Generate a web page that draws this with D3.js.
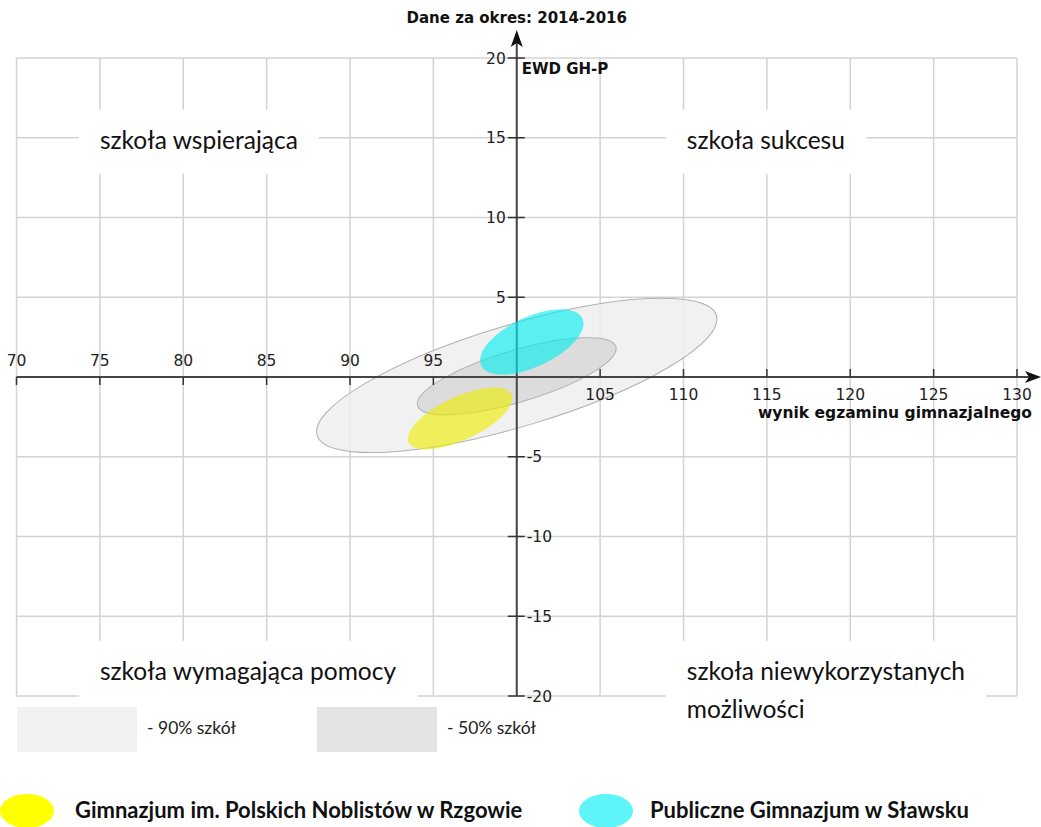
<!DOCTYPE html>
<html lang="pl">
<head>
  <meta charset="utf-8">
  <title>EWD GH-P</title>
  <script src="https://cdn.jsdelivr.net/npm/d3@7"></script>
<style>
body { margin: 0; background: white; }
.tick-label { font: 15.5px "DejaVu Sans", sans-serif; fill: #222; }
.axis-title { font: bold 15px "DejaVu Sans", sans-serif; fill: #111; }
.axis-title.big { font-size: 15.5px; }
.quad { font: 24.5px Lato, "Open Sans", sans-serif; fill: #111; }
.band-label { font: 17.5px Lato, "Open Sans", sans-serif; fill: #222; }
.school-label { font: bold 22px Lato, "Open Sans", sans-serif; fill: #111; }
</style>
</head>
<body>
<div id="chart"></div>
<script>
// axis ticks
var xTicks = [70, 75, 80, 85, 90, 95, 100, 105, 110, 115, 120, 125, 130];
var yTicks = [-20, -15, -10, -5, 0, 5, 10, 15, 20];

// reference areas (90% / 50% of schools), semi-axes in exam points
var bandNames = ["- 90% szkół", "- 50% szkół"];
var bandCx = [100, 100];
var bandCy = [0.1, 0.05];
var bandA = [12.5, 6.2];
var bandB = [3.05, 1.55];
var bandAngle = [16.7, 16.6];

// schools
var schoolNames = ["Gimnazjum im. Polskich Noblistów w Rzgowie", "Publiczne Gimnazjum w Sławsku"];
var schoolCx = [96.6, 100.9];
var schoolCy = [-2.6, 2.2];
var schoolA = [3.4, 3.35];
var schoolB = [1.3, 1.5];
var schoolAngle = [25, 25];

var quadrants = [
  {lines: ["szkoła wspierająca"], x: 75, y: 15},
  {lines: ["szkoła sukcesu"], x: 110.2, y: 15},
  {lines: ["szkoła wymagająca pomocy"], x: 75, y: -18.3},
  {lines: ["szkoła niewykorzystanych", "możliwości"], x: 110.2, y: -18.3}
];

var width = 1041, height = 827;
var x = d3.scaleLinear().domain([70, 130]).range([16.5, 1017]);
var y = d3.scaleLinear().domain([-20, 20]).range([696, 58]);

var svg = d3.select("#chart").append("svg")
  .attr("width", width)
  .attr("height", height);

// grid
var grid = svg.append("g");
grid.selectAll(".vg").data(xTicks).enter().append("line")
  .attr("x1", function(d){ return x(d); })
  .attr("x2", function(d){ return x(d); })
  .attr("y1", y(20)).attr("y2", y(-20))
  .attr("stroke", "#d3d3d3").attr("stroke-width", 1.5);
grid.selectAll(".hg").data(yTicks).enter().append("line")
  .attr("y1", function(d){ return y(d); })
  .attr("y2", function(d){ return y(d); })
  .attr("x1", x(70)).attr("x2", x(130))
  .attr("stroke", "#d3d3d3").attr("stroke-width", 1.5);

// quadrant labels with white boxes
quadrants.forEach(function(q) {
  var g = svg.append("g");
  var rect = g.append("rect").attr("fill", "white");
  var t = g.append("text").attr("class", "quad")
    .attr("x", x(q.x)).attr("y", y(q.y) + 5)
    .attr("dominant-baseline", "middle");
  q.lines.forEach(function(l, i) {
    t.append("tspan").attr("x", x(q.x)).attr("dy", i === 0 ? 0 : 38).text(l);
  });
  var bb = t.node().getBBox();
  rect.attr("x", bb.x - 21).attr("y", y(q.y) - 28)
    .attr("width", bb.width + 42).attr("height", 64);
});

function ellipse(sel, cx, cy, a, b, ang) {
  var px = x(cx), py = y(cy);
  return sel.append("ellipse")
    .attr("cx", px).attr("cy", py)
    .attr("rx", x(cx + a) - px)
    .attr("ry", x(cx + b) - px)
    .attr("transform", "rotate(" + (-ang) + "," + px + "," + py + ")");
}

// reference bands
var bandFill = ["#efefef", "#c8c8c8"];
var bandOpacity = [0.85, 0.5];
bandNames.forEach(function(n, i) {
  ellipse(svg, bandCx[i], bandCy[i], bandA[i], bandB[i], bandAngle[i])
    .attr("fill", bandFill[i]).attr("fill-opacity", bandOpacity[i])
    .attr("stroke", "#b0b0b0").attr("stroke-width", 1);
});

// axes
var axis = svg.append("g");
axis.append("line").attr("x1", x(70)).attr("x2", 1034)
  .attr("y1", y(0)).attr("y2", y(0)).attr("stroke", "#444").attr("stroke-width", 2);
axis.append("path").attr("d", "M1041," + y(0) + " L1025," + (y(0) - 6) + " L1029," + y(0) + " L1025," + (y(0) + 6) + "Z")
  .attr("fill", "#111");
axis.append("line").attr("x1", x(100)).attr("x2", x(100))
  .attr("y1", y(-20)).attr("y2", 40).attr("stroke", "#444").attr("stroke-width", 2);
axis.append("path").attr("d", "M" + x(100) + ",30 L" + (x(100) - 6) + ",47 L" + x(100) + ",43 L" + (x(100) + 6) + ",47Z")
  .attr("fill", "#111");

var xt = xTicks.filter(function(d){ return d !== 100; });
axis.selectAll(".xt").data(xt).enter().append("line")
  .attr("x1", function(d){ return x(d); }).attr("x2", function(d){ return x(d); })
  .attr("y1", function(d){ return d < 100 ? y(0) : y(0) - 8; })
  .attr("y2", function(d){ return d < 100 ? y(0) + 8 : y(0); })
  .attr("stroke", "#333").attr("stroke-width", 1.5);
axis.selectAll(".xl").data(xt).enter().append("text")
  .attr("class", "tick-label")
  .attr("text-anchor", "middle")
  .attr("x", function(d){ return x(d); })
  .attr("y", function(d){ return d < 100 ? y(0) - 11 : y(0) + 23; })
  .text(function(d){ return d; });

var yt = yTicks.filter(function(d){ return d !== 0; });
axis.selectAll(".yt").data(yt).enter().append("line")
  .attr("x1", x(100) - 9).attr("x2", x(100) + 8)
  .attr("y1", function(d){ return y(d); }).attr("y2", function(d){ return y(d); })
  .attr("stroke", "#333").attr("stroke-width", 1.5);
axis.selectAll(".yl").data(yt).enter().append("text")
  .attr("class", "tick-label")
  .attr("text-anchor", function(d){ return d > 0 ? "end" : "start"; })
  .attr("dominant-baseline", "middle")
  .attr("x", function(d){ return d > 0 ? x(100) - 11 : x(100) + 10; })
  .attr("y", function(d){ return y(d) + 1; })
  .text(function(d){ return d; });

svg.append("text").attr("class", "axis-title").attr("text-anchor", "middle")
  .attr("x", x(100)).attr("y", 23).text("Dane za okres: 2014-2016");
svg.append("text").attr("class", "axis-title")
  .attr("x", x(100) + 5).attr("y", 74).text("EWD GH-P");
svg.append("text").attr("class", "axis-title big").attr("text-anchor", "end")
  .attr("x", 1032).attr("y", 418).text("wynik egzaminu gimnazjalnego");

// schools
var schoolColor = ["#eeee00", "#00eeee"];
var schoolLegend = ["#ffff00", "#5ef5f8"];
schoolNames.forEach(function(n, i) {
  ellipse(svg, schoolCx[i], schoolCy[i], schoolA[i], schoolB[i], schoolAngle[i])
    .attr("fill", schoolColor[i]).attr("fill-opacity", 0.62);
});

// band legend
var bandLegendFill = ["#f2f2f2", "#e3e3e3"];
bandNames.forEach(function(n, i) {
  svg.append("rect").attr("x", 17 + i * 300).attr("y", 707)
    .attr("width", 120).attr("height", 45).attr("fill", bandLegendFill[i]);
  svg.append("text").attr("class", "band-label")
    .attr("x", 147 + i * 300).attr("y", 730).attr("dominant-baseline", "middle").text(n);
});

// school legend
var legendX = [27, 606];
var legendTextX = [75, 650];
schoolNames.forEach(function(n, i) {
  svg.append("ellipse").attr("cx", legendX[i]).attr("cy", 811)
    .attr("rx", 27).attr("ry", 17).attr("fill", schoolLegend[i]);
  svg.append("text").attr("class", "school-label")
    .attr("x", legendTextX[i]).attr("y", 818).text(n);
});
</script>
</body>
</html>
